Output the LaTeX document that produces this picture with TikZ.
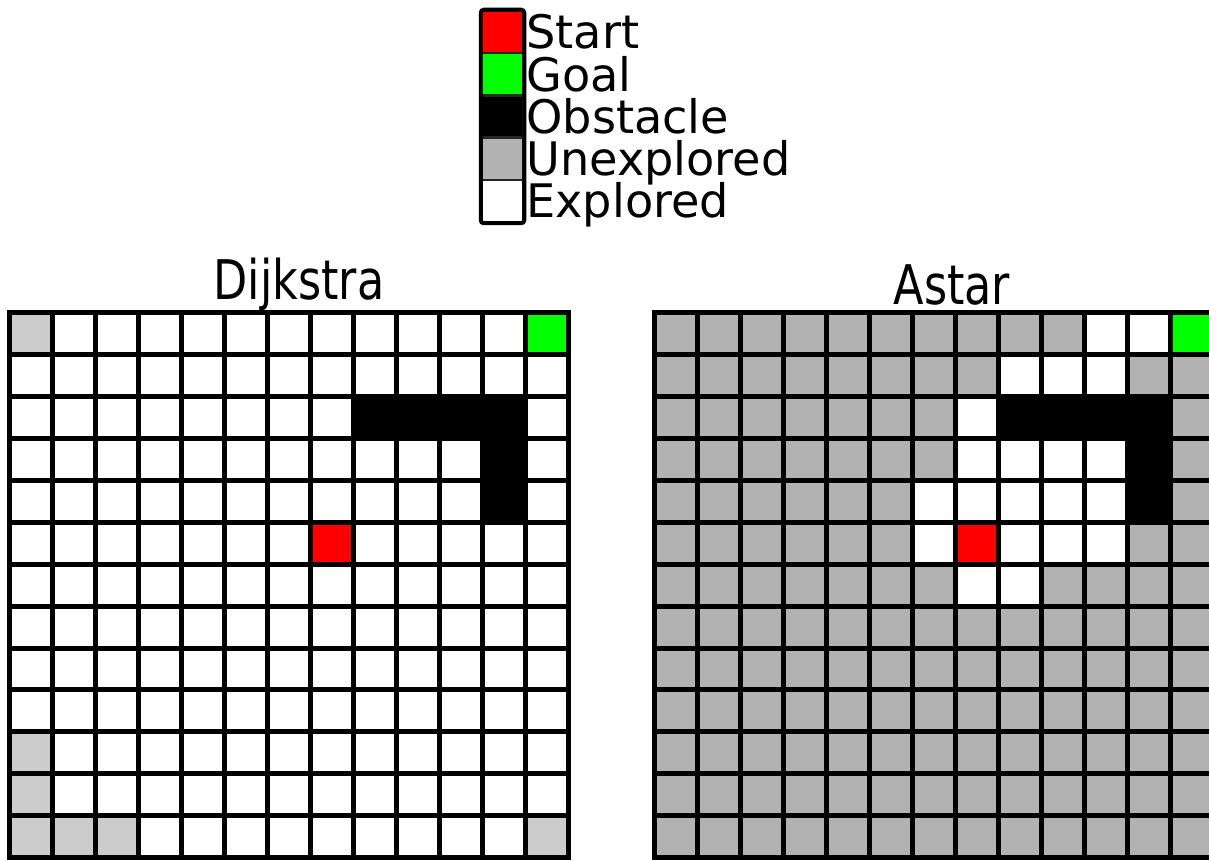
\documentclass[tikz,border=0pt]{standalone}
\usepackage{fontspec}
\setmainfont{DejaVu Sans}
\usetikzlibrary{positioning}

% one cell of a search grid: column, row, style
\newcommand{\gridcell}[3]{\fill[#3] (#1,#2) rectangle ++(1,1);}

\begin{document}
\begin{tikzpicture}[x=0.02cm, y=-0.02cm,
    gridline/.style ={line width=0.1cm, line cap=rect},
    explored/.style ={fill=white},
    unexpl/.style   ={fill=black!30},
    unexplL/.style  ={fill=black!20},
    obstacle/.style ={fill=black},
    startcell/.style={fill=red},
    goalcell/.style ={fill=green},
    swatch/.style   ={draw=black!85, line width=0.05cm, minimum width=0.82cm,
                      minimum height=0.844cm, inner sep=0pt},
    key/.style      ={font=\fontsize{26.3pt}{31pt}\selectfont, anchor=base west, inner sep=0pt},
    title/.style    ={font=\fontsize{25.3pt}{30pt}\selectfont, anchor=base, inner sep=0pt}
  ]
    \useasboundingbox (0,0) rectangle (1209,861);

    % --- legend ---
    \foreach \n/\col/\lab [count=\k] in {start/red/Start, goal/green/Goal,
        obst/black/Obstacle, unex/black!30/Unexplored, expl/white/Explored} {
      \node[swatch, fill=\col] (sw\n) at (502.5, 11+42.2*\k-21.1) {};
      \node[key] (key\n) at (526, 6.8+42.2*\k) {\lab};
    }
    \draw[line width=0.08cm, rounded corners=0.06cm]
      (swstart.north west) rectangle (swexpl.south east);

    % --- titles ---
    \node[title] (tDij) at (299, 299) {\scalebox{1}[1.23]{Dijkstra}};
    \node[title] (tAst) at (952, 304) {\scalebox{1}[1.23]{Astar}};

    % --- Dijkstra grid ---
    \begin{scope}[shift={(0.2cm,-6.26cm)}, x=0.86cm, y=-0.838cm]
      \fill[explored] (0,0) rectangle (13,13);
      \foreach \c/\r in {0/0, 0/10, 0/11, 0/12, 1/12, 2/12, 12/12}
        \gridcell{\c}{\r}{unexplL}
      \fill[obstacle] (8,2) rectangle (12,3) (11,2) rectangle (12,5);
      \gridcell{7}{5}{startcell}
      \gridcell{12}{0}{goalcell}
      \foreach \i in {0,...,13} {
        \draw[gridline] (\i,0) -- (\i,13);
        \draw[gridline] (0,\i) -- (13,\i);
      }
    \end{scope}

    % --- Astar grid ---
    \begin{scope}[shift={(13.1cm,-6.26cm)}, x=0.86cm, y=-0.838cm]
      \fill[unexpl] (0,0) rectangle (13,13);
      \foreach \c/\r in {10/0, 11/0, 8/1, 9/1, 10/1, 7/2, 7/3, 8/3, 9/3, 10/3,
          6/4, 7/4, 8/4, 9/4, 10/4, 6/5, 8/5, 9/5, 10/5, 7/6, 8/6}
        \gridcell{\c}{\r}{explored}
      \fill[obstacle] (8,2) rectangle (12,3) (11,2) rectangle (12,5);
      \gridcell{7}{5}{startcell}
      \gridcell{12}{0}{goalcell}
      \foreach \i in {0,...,13} {
        \draw[gridline] (\i,0) -- (\i,13);
        \draw[gridline] (0,\i) -- (13,\i);
      }
    \end{scope}
\end{tikzpicture}
\end{document}
